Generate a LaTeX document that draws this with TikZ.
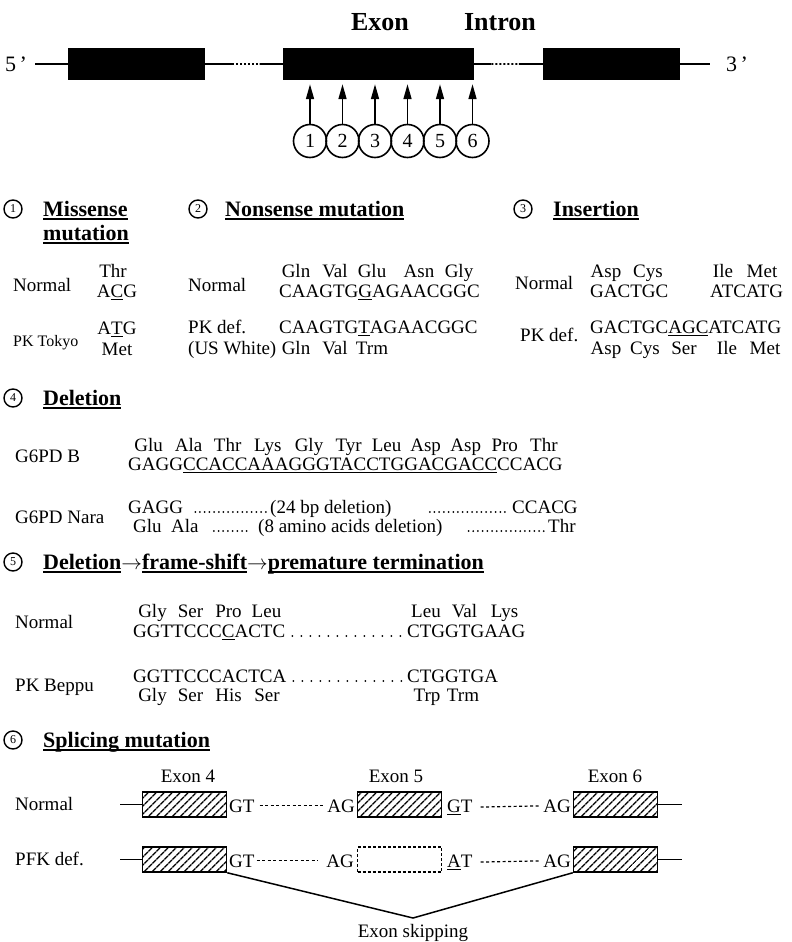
\documentclass[tikz,border=0pt]{standalone}
\usepackage{fontspec}
\setmainfont{Liberation Serif}
\usetikzlibrary{arrows.meta,calc,patterns.meta}
\newsavebox\ulbox
\newcommand\hdul[1]{\sbox\ulbox{#1}\rlap{\rule[-3.5bp]{\wd\ulbox}{1.8bp}}\usebox\ulbox}
\newcommand\squl[1]{\sbox\ulbox{#1}\rlap{\rule[-3bp]{\wd\ulbox}{1.2bp}}\usebox\ulbox}
\tikzset{
  txt/.style={inner sep=0pt,anchor=base west,font=\fontsize{19bp}{22bp}\selectfont},
  ctxt/.style={txt,anchor=base},
  etxt/.style={txt,anchor=base east},
  small/.style={txt,font=\fontsize{16bp}{19bp}\selectfont},
  hdr/.style={inner sep=0pt,anchor=base west,font=\fontsize{22bp}{26bp}\selectfont\bfseries},
  title/.style={inner sep=0pt,anchor=base,font=\fontsize{26bp}{30bp}\selectfont\bfseries},
  endlab/.style={inner sep=0pt,anchor=base,font=\fontsize{22bp}{26bp}\selectfont},
  numc/.style={circle,draw,line width=1.4bp,inner sep=0pt,minimum size=18bp,font=\fontsize{12bp}{14bp}\selectfont},
  bignum/.style={circle,draw,line width=1.6bp,inner sep=0pt,minimum size=33bp,font=\fontsize{20bp}{24bp}\selectfont},
  gene/.style={line width=1.8bp},
  genedot/.style={line width=1.8bp,dash pattern=on 2bp off 2bp},
  gbox/.style={fill=black,inner sep=0pt,minimum height=32bp},
  mutarrow/.style={line width=1.6bp,-{Triangle[length=15bp,width=8bp]},shorten >=4bp},
  hatchbox/.style={draw,line width=1.5bp,inner sep=0pt,minimum width=84bp,minimum height=25bp,
    pattern={Lines[angle=45,distance=6bp,line width=1.5bp]}},
  lostbox/.style={draw,line width=1.3bp,dash pattern=on 3bp off 2bp,inner sep=0pt,minimum width=84bp,minimum height=25bp},
  intron/.style={line width=1.2bp,dash pattern=on 3bp off 2.5bp},
  dotrow/.style={line width=2bp,line cap=round,dash pattern=on 0bp off 4.7bp},
  widedot/.style={dotrow,dash pattern=on 0bp off 9bp},
  stub/.style={line width=1.5bp},
}
\begin{document}
\begin{tikzpicture}[x=1bp,y=-1bp]
  \useasboundingbox (0,0) rectangle (792,942);
  % 遺伝子の構造
  \node[title] (exlab) at (380,30) {Exon};
  \node[title] (inlab) at (500,30) {Intron};
  \node[endlab] (p5) at (16,71) {5\,'};
  \node[endlab] (p3) at (737,71) {3\,'};
  \node[gbox,minimum width=137bp] (b1) at (136.5,64) {};
  \node[gbox,minimum width=191bp] (b2) at (378.5,64) {};
  \node[gbox,minimum width=137bp] (b3) at (611.5,64) {};
  \draw[gene,shorten <=8bp] (p5.east |- b1.west) -- (b1.west);
  \draw[gene] (b1.east) -- ($(b1.east)!.35!(b2.west)$);
  \draw[genedot] ($(b1.east)!.35!(b2.west)$) -- ($(b1.east)!.7!(b2.west)$);
  \draw[gene] ($(b1.east)!.7!(b2.west)$) -- (b2.west);
  \draw[gene] (b2.east) -- ($(b2.east)!.25!(b3.west)$);
  \draw[genedot] ($(b2.east)!.25!(b3.west)$) -- ($(b2.east)!.65!(b3.west)$);
  \draw[gene] ($(b2.east)!.65!(b3.west)$) -- (b3.west);
  \draw[gene,shorten >=16bp] (b3.east) -- (p3.west |- b3.east);
  % 変異の位置 1〜6
  \foreach \i in {1,...,6} {
    \node[bignum] (c\i) at ({310+32.5*(\i-1)},141) {\i};
    \draw[mutarrow] (c\i.north) -- (c\i.north |- b2.south);
  }

  % (1) ミスセンス
  \node[numc] (h1) at (13,209) {1};
  \node[hdr] (h1a) at (43,216) {\hdul{Missense}};
  \node[hdr] (h1b) at (43,240) {\hdul{mutation}};
  \node[txt] (s1n) at (13,291) {Normal};
  \node[ctxt] (s1thr) at (113,277) {Thr};
  \node[ctxt] (s1acg) at (117,297) {A\squl{C}G};
  \node[small] (s1pk) at (13,346) {PK Tokyo};
  \node[ctxt] (s1atg) at (117,334) {A\squl{T}G};
  \node[ctxt] (s1met) at (117,355) {Met};

  % (2) ナンセンス
  \node[numc] (h2) at (198,209) {2};
  \node[hdr] (h2a) at (225,216) {\hdul{Nonsense mutation}};
  \node[txt] (s2n) at (188,291) {Normal};
  \foreach \aa/\xc [count=\k] in {Gln/296,Val/335,Glu/372,Asn/419,Gly/459}
    \node[ctxt] (s2a\k) at (\xc,277) {\aa};
  \node[txt] (s2seq) at (279,297) {CAAGTG\squl{G}AGAACGGC};
  \node[txt] (s2pk) at (188,333) {PK def.};
  \node[txt] (s2us) at (188,354) {(US White)};
  \node[txt] (s2mut) at (279,333) {CAAGTG\squl{T}AGAACGGC};
  \foreach \aa/\xc [count=\k] in {Gln/296,Val/335,Trm/372}
    \node[ctxt] (s2b\k) at (\xc,354) {\aa};

  % (3) 挿入
  \node[numc] (h3) at (523,209) {3};
  \node[hdr] (h3a) at (553,216) {\hdul{Insertion}};
  \node[txt] (s3n) at (515,289) {Normal};
  \foreach \aa/\xc [count=\k] in {Asp/606,Cys/648,Ile/723,Met/762}
    \node[ctxt] (s3a\k) at (\xc,277) {\aa};
  \node[txt] (s3l) at (590,297) {GACTGC};
  \node[txt] (s3r) at (710,297) {ATCATG};
  \node[txt] (s3pk) at (520,341) {PK def.};
  \node[txt] (s3mut) at (590,333) {GACTGC\squl{AGC}ATCATG};
  \foreach \aa/\xc [count=\k] in {Asp/606,Cys/645,Ser/684,Ile/727,Met/765}
    \node[ctxt] (s3b\k) at (\xc,354) {\aa};

  % (4) 欠失
  \node[numc] (h4) at (13,398) {4};
  \node[hdr] (h4a) at (43,405) {\hdul{Deletion}};
  \node[txt] (s4b) at (15,462) {G6PD B};
  \foreach \aa/\xc [count=\k] in {Glu/148.6,Ala/188.7,Thr/227.7,Lys/267.8,Gly/309,Tyr/348.6,
      Leu/386.6,Asp/425.6,Asp/465.7,Pro/504.8,Thr/543.9}
    \node[ctxt] (s4a\k) at (\xc,451) {\aa};
  \node[txt] (s4seq) at (128,470) {GAGG\squl{CCACCAAAGGGTACCTGGACGACC}CCACG};
  \node[txt] (s4nara) at (15,523) {G6PD Nara};
  \node[txt] (s4g) at (128,513) {GAGG};
  \node[txt] (s4del) at (270,513) {(24 bp deletion)};
  \node[txt] (s4c) at (512,513) {CCACG};
  \node[txt] (s4ga) at (133,532) {Glu\ \ Ala};
  \node[txt] (s4aa) at (258,532) {(8 amino acids deletion)};
  \node[txt] (s4thr) at (548,532) {Thr};
  \draw[dotrow] ([xshift=12bp,yshift=1bp]s4g.base east) -- ([xshift=-2bp,yshift=1bp]s4del.base west);
  \draw[dotrow] ([xshift=38bp,yshift=1bp]s4del.base east) -- ([xshift=-5bp,yshift=1bp]s4c.base west);
  \draw[dotrow] ([xshift=15bp,yshift=1bp]s4ga.base east) -- ([xshift=-8bp,yshift=1bp]s4aa.base west);
  \draw[dotrow] ([xshift=26bp,yshift=1bp]s4aa.base east) -- ([xshift=-3bp,yshift=1bp]s4thr.base west);

  % (5) 欠失→フレームシフト→早期終止
  \node[numc] (h5) at (13,562) {5};
  \node[hdr] (h5a) at (43,569) {\hdul{Deletion}$\rightarrow$\hdul{frame-shift}$\rightarrow$\hdul{premature termination}};
  \node[txt] (s5n) at (15,628) {Normal};
  \foreach \aa/\xc [count=\k] in {Gly/152.5,Ser/190.5,Pro/228.5,Leu/266.5}
    \node[ctxt] (s5a\k) at (\xc,617) {\aa};
  \node[txt] (s5l) at (133,637) {GGTTCCC\squl{C}ACTC};
  \node[txt] (s5r) at (407,637) {CTGGTGAAG};
  \foreach \aa/\xc [count=\k] in {Leu/426,Val/464.5,Lys/504.6}
    \node[ctxt] (s5b\k) at (\xc,617) {\aa};
  \draw[widedot] ([xshift=7bp,yshift=1bp]s5l.base east) -- ([xshift=-3bp,yshift=1bp]s5r.base west);
  \node[txt] (s5pk) at (15,691) {PK Beppu};
  \node[txt] (s5ml) at (133,682) {GGTTCCCACTCA};
  \node[txt] (s5mr) at (407,682) {CTGGTGA};
  \draw[widedot] ([xshift=7bp,yshift=1bp]s5ml.base east) -- ([xshift=-3bp,yshift=1bp]s5mr.base west);
  \foreach \aa/\xc [count=\k] in {Gly/152.5,Ser/190.5,His/228.5,Ser/267,Trp/427,Trm/463}
    \node[ctxt] (s5c\k) at (\xc,701) {\aa};

  % (6) スプライシング
  \node[numc] (h6) at (13,740) {6};
  \node[hdr] (h6a) at (43,747) {\hdul{Splicing mutation}};
  \node[ctxt] (ex4) at (188,782) {Exon 4};
  \node[ctxt] (ex5) at (396,782) {Exon 5};
  \node[ctxt] (ex6) at (615,782) {Exon 6};
  % 正常
  \node[txt] (s6n) at (15,810) {Normal};
  \node[hatchbox] (e4n) at (184.5,804.5) {};
  \node[hatchbox] (e5n) at (399.5,804.5) {};
  \node[hatchbox] (e6n) at (615.5,804.5) {};
  \coordinate (l1) at (120,804.5);
  \coordinate (r1) at (682,804.5);
  \draw[stub] (l1) -- (e4n.west);
  \draw[stub] (e6n.east) -- (r1);
  \node[txt] (gt1) at (229,812) {GT};
  \node[etxt] (ag1) at (355,812) {AG};
  \node[txt] (gt2) at (447,812) {\squl{G}T};
  \node[etxt] (ag2) at (571,812) {AG};
  \draw[intron,shorten <=5bp,shorten >=3bp] (gt1.east) -- (ag1.west);
  \draw[intron,shorten <=8bp,shorten >=3bp] (gt2.east) -- (ag2.west);
  % PFK欠損症
  \node[txt] (s6p) at (15,865) {PFK def.};
  \node[hatchbox] (e4p) at (184.5,859.5) {};
  \node[lostbox] (e5p) at (399.5,859.5) {};
  \node[hatchbox] (e6p) at (615.5,859.5) {};
  \coordinate (l2) at (120,859.5);
  \coordinate (r2) at (682,859.5);
  \draw[stub] (l2) -- (e4p.west);
  \draw[stub] (e6p.east) -- (r2);
  \node[txt] (gt3) at (229,867) {GT};
  \node[etxt] (ag3) at (354,867) {AG};
  \node[txt] (at4) at (447,867) {\squl{A}T};
  \node[etxt] (ag4) at (571,867) {AG};
  \draw[intron,shorten <=2bp,shorten >=8bp] (gt3.east) -- (ag3.west);
  \draw[intron,shorten <=8bp,shorten >=3bp] (at4.east) -- (ag4.west);
  % エクソンスキッピング
  \coordinate (skip) at (413,918);
  \draw[stub] (e4p.south east) -- (skip) -- (e6p.south west);
  \node[ctxt] (skiplab) at (413,937) {Exon skipping};
\end{tikzpicture}
\end{document}
